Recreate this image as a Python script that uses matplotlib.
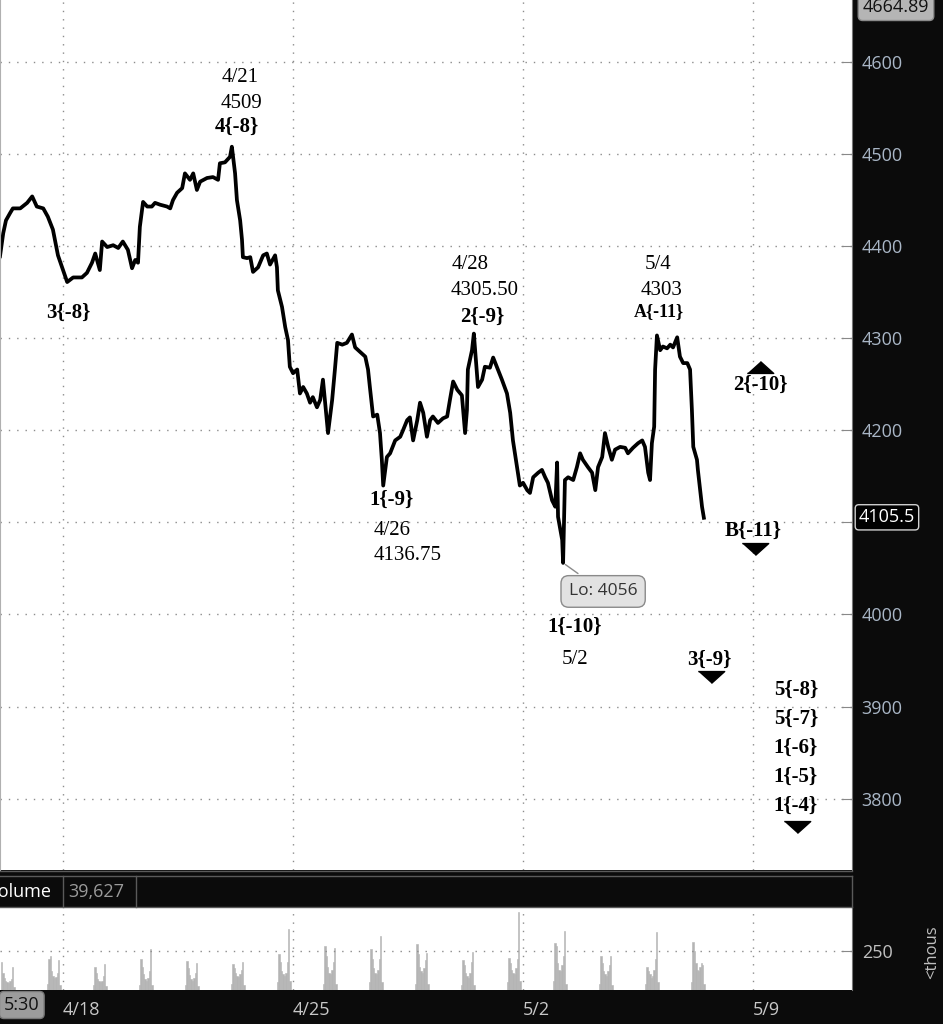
import numpy as np
import matplotlib.pyplot as plt
from matplotlib.lines import Line2D

# Eje x en sesiones de mercado (0 = 4/18, 5 = 4/25, 10 = 5/2, 15 = 5/9)
fechas = ['4/18', '4/25', '5/2', '5/9']
fecha_pos = [0, 5, 10, 15]

# Precio
t = [-1.37, -1.30, -1.24, -1.15, -1.09, -0.93, -0.78, -0.67, -0.57, -0.43,
     -0.33, -0.22, -0.11, 0.00, 0.09, 0.22, 0.41, 0.52, 0.63, 0.70,
     0.80, 0.85, 0.96, 1.09, 1.20, 1.30, 1.41, 1.50, 1.57, 1.63,
     1.67, 1.74, 1.83, 1.93, 2.00, 2.11, 2.26, 2.33, 2.39, 2.48,
     2.59, 2.65, 2.76, 2.83, 2.91, 2.98, 3.13, 3.26, 3.37, 3.41,
     3.52, 3.63, 3.67, 3.74, 3.78, 3.85, 3.89, 3.91, 4.00, 4.07,
     4.13, 4.24, 4.35, 4.43, 4.50, 4.61, 4.65, 4.67, 4.76, 4.83,
     4.89, 4.93, 5.00, 5.09, 5.15, 5.22, 5.30, 5.37, 5.43, 5.52,
     5.59, 5.65, 5.74, 5.76, 5.85, 5.91, 5.96, 6.07, 6.17, 6.28,
     6.35, 6.46, 6.57, 6.63, 6.67, 6.74, 6.83, 6.89, 6.93, 6.96,
     7.04, 7.11, 7.22, 7.33, 7.39, 7.48, 7.54, 7.61, 7.70, 7.76,
     7.83, 7.91, 7.98, 8.04, 8.15, 8.26, 8.35, 8.41, 8.48, 8.57,
     8.67, 8.74, 8.78, 8.80, 8.89, 8.93, 8.98, 9.02, 9.11, 9.17,
     9.28, 9.35, 9.43, 9.54, 9.65, 9.72, 9.78, 9.87, 9.93, 10.00,
     10.09, 10.15, 10.22, 10.33, 10.41, 10.48, 10.54, 10.63, 10.70, 10.74,
     10.76, 10.80, 10.85, 10.87, 10.91, 10.98, 11.09, 11.17, 11.24, 11.30,
     11.41, 11.50, 11.57, 11.63, 11.72, 11.78, 11.85, 11.93, 12.00, 12.11,
     12.22, 12.28, 12.39, 12.50, 12.59, 12.65, 12.72, 12.76, 12.80, 12.85,
     12.87, 12.91, 12.98, 13.04, 13.13, 13.20, 13.26, 13.35, 13.41, 13.48,
     13.57, 13.63, 13.67, 13.70, 13.78, 13.80, 13.89, 13.93]
precio = [4389, 4414, 4428, 4436, 4441, 4441, 4447, 4454, 4443, 4441,
          4432, 4418, 4390, 4374, 4361, 4366, 4366, 4371, 4382, 4392,
          4374, 4405, 4399, 4401, 4398, 4405, 4396, 4376, 4385, 4382,
          4421, 4448, 4443, 4443, 4447, 4445, 4443, 4441, 4450, 4458,
          4463, 4479, 4472, 4479, 4461, 4470, 4474, 4475, 4472, 4490,
          4491, 4497, 4508, 4479, 4450, 4428, 4407, 4388, 4387, 4388,
          4372, 4377, 4390, 4392, 4380, 4390, 4377, 4352, 4334, 4312,
          4298, 4269, 4262, 4266, 4240, 4247, 4240, 4230, 4236, 4225,
          4233, 4255, 4208, 4197, 4233, 4266, 4295, 4293, 4295, 4304,
          4290, 4285, 4280, 4266, 4247, 4215, 4217, 4197, 4168, 4140,
          4171, 4175, 4189, 4193, 4200, 4211, 4214, 4189, 4211, 4230,
          4219, 4193, 4211, 4215, 4208, 4213, 4215, 4233, 4253, 4244,
          4238, 4197, 4222, 4266, 4287, 4305, 4273, 4247, 4255, 4269,
          4268, 4279, 4269, 4255, 4240, 4219, 4189, 4160, 4140, 4143,
          4135, 4132, 4149, 4154, 4157, 4149, 4143, 4124, 4117, 4165,
          4106, 4095, 4081, 4056, 4146, 4149, 4146, 4160, 4175, 4168,
          4160, 4154, 4135, 4160, 4171, 4197, 4182, 4168, 4179, 4182,
          4181, 4175, 4181, 4186, 4189, 4182, 4154, 4146, 4186, 4204,
          4266, 4303, 4287, 4291, 4289, 4293, 4290, 4301, 4280, 4273,
          4273, 4266, 4222, 4182, 4168, 4157, 4117, 4105]

# Volumen (miles) por sesion regular: inicio de cada bloque y barras
vol_inicio = [-1.35, -0.35, 0.65, 1.65, 2.65, 3.65, 4.65, 5.65,
              6.65, 7.65, 8.65, 9.65, 10.65, 11.65, 12.65, 13.65]
vol = [
    [177, 110, 80, 60, 50, 45, 55, 70, 150, 20],
    [40, 200, 219, 120, 90, 75, 85, 110, 190, 30],
    [30, 146, 110, 70, 55, 50, 60, 90, 167, 25],
    [35, 198, 150, 100, 70, 60, 80, 120, 260, 30],
    [30, 187, 140, 95, 70, 60, 75, 110, 175, 25],
    [40, 167, 140, 110, 90, 85, 100, 130, 177, 30],
    [50, 229, 180, 120, 100, 90, 110, 180, 390, 60],
    [40, 281, 220, 150, 110, 100, 130, 180, 270, 40],
    [50, 260, 200, 140, 110, 100, 130, 200, 344, 50],
    [40, 298, 230, 150, 120, 110, 140, 190, 240, 40],
    [30, 190, 160, 110, 90, 80, 110, 180, 244, 30],
    [50, 208, 170, 130, 110, 100, 140, 200, 500, 60],
    [60, 302, 280, 170, 130, 120, 160, 220, 379, 40],
    [40, 219, 170, 120, 100, 90, 120, 160, 219, 30],
    [40, 150, 120, 100, 80, 90, 130, 200, 369, 50],
    [50, 306, 250, 170, 130, 120, 150, 175, 160, 40],
]

serif = 'Liberation Serif'
gris_txt = '#a9b6c6'

fig = plt.figure(figsize=(9.43, 10.24), dpi=100, facecolor='#0b0b0b')
ax = fig.add_axes([0, 154 / 1024, 852 / 943, 870 / 1024])
axv = fig.add_axes([0, 34 / 1024, 852 / 943, 82 / 1024])

# ---- Panel de precio ----
ax.set_facecolor('white')
ax.plot(t, precio, color='black', lw=2.7)
ax.set_xlim(-1.37, 17.15)
ax.set_ylim(3722.5, 4667.3)
ax.yaxis.tick_right()
niveles = list(range(3800, 4700, 100))
ax.set_yticks(niveles)
# la etiqueta 4100 queda tapada por el recuadro del ultimo precio
ax.set_yticklabels(['' if n == 4100 else str(n) for n in niveles], family='Open Sans')
ax.set_xticks(fecha_pos)
ax.tick_params(axis='x', length=0, labelbottom=False)
ax.tick_params(axis='y', direction='in', length=8, color='#888888',
               labelcolor=gris_txt, labelsize=13, pad=7)
ax.grid(True, color='#8c8c8c', ls=(0, (1, 5)), lw=1)
for s in ['top', 'bottom']:
    ax.spines[s].set_visible(False)
ax.spines['left'].set_color('#b0b0b0')
ax.spines['right'].set_color('#777777')

# etiquetas de ondas
def txt(x, y, s, bold=True, size=15):
    ax.text(x, y, s, ha='center', va='center', family=serif, fontsize=size,
            fontweight='bold' if bold else 'normal', color='black')

txt(3.85, 4583, '4/21', False)
txt(3.87, 4555, '4509', False)
txt(3.78, 4530, '4{-8}')
txt(0.11, 4328, '3{-8}')
txt(8.85, 4380, '4/28', False)
txt(9.17, 4352, '4305.50', False)
txt(9.11, 4323, '2{-9}')
txt(12.93, 4380, '5/4', False)
txt(13.02, 4352, '4303', False)
txt(12.96, 4329, 'A{-11}', size=13)
txt(7.15, 4124, '1{-9}')
txt(7.15, 4091, '4/26', False)
txt(7.48, 4064, '4136.75', False)
txt(11.13, 3986, '1{-10}')
txt(11.13, 3951, '5/2', False)
txt(15.15, 4249, '2{-10}')
txt(15.00, 4091, 'B{-11}')
txt(14.04, 3951, '3{-9}')
for y, s in zip([3918, 3887, 3855, 3824, 3792],
                ['5{-8}', '5{-7}', '1{-6}', '1{-5}', '1{-4}']):
    txt(15.93, y, s)

tri_abajo = [(-1, 0.45), (1, 0.45), (0, -0.45)]
tri_arriba = [(-1, -0.45), (1, -0.45), (0, 0.45)]
ax.plot([15.15], [4269], marker=tri_arriba, ms=19, color='black', ls='none')
ax.plot([15.04, 14.09, 15.96], [4071, 3932, 3769], marker=tri_abajo, ms=19,
        color='black', ls='none')

ax.annotate('Lo: 4056', xy=(10.87, 4056), xytext=(11.74, 4025),
            ha='center', va='center', fontsize=12.5, family='Open Sans',
            color='#333333',
            bbox=dict(boxstyle='round,pad=0.45', fc='#e2e2e2', ec='#8a8a8a'),
            arrowprops=dict(arrowstyle='-', color='#8a8a8a', lw=1))

# etiquetas del eje derecho
fig.text(896 / 943, 1 - 7 / 1024, '4664.89', ha='center', va='center',
         fontsize=13, family='Open Sans', color='#111111',
         bbox=dict(boxstyle='round,pad=0.25', fc='#b5b5b5', ec='#8a8a8a'))
ax.text(1.008, 4105.5, '4105.5', transform=ax.get_yaxis_transform(),
        ha='left', va='center', fontsize=13, family='Open Sans', color='white',
        bbox=dict(boxstyle='round,pad=0.2', fc='black', ec='#d0d0d0'))

# ---- Barra de encabezado del volumen ----
borde = '#5a5a5a'
for yp in [871, 876, 907]:
    fig.add_artist(Line2D([0, 852 / 943], [1 - yp / 1024] * 2, color=borde, lw=1))
for xp in [63, 136, 852]:
    fig.add_artist(Line2D([xp / 943] * 2, [1 - 907 / 1024, 1 - 876 / 1024],
                          color=borde, lw=1))
fig.text(-13 / 943, 1 - 892 / 1024, 'Volume', ha='left', va='center',
         fontsize=13, family='Open Sans', color='white')
fig.text(68 / 943, 1 - 892 / 1024, '39,627', ha='left', va='center',
         fontsize=13, family='Open Sans', color='#9a9a9a')

# ---- Panel de volumen ----
axv.set_facecolor('white')
paso = 0.03
for x0, bloque in zip(vol_inicio, vol):
    xs = [x0 + i * paso for i in range(len(bloque))]
    axv.bar(xs, bloque, width=paso, align='edge', color='#b4b4b4',
            edgecolor='#b4b4b4', lw=0.4)
axv.set_xlim(-1.37, 17.15)
axv.set_ylim(0, 526)
axv.yaxis.tick_right()
axv.set_yticks([250])
axv.set_yticklabels(['250'], family='Open Sans')
axv.tick_params(axis='y', direction='in', length=8, color='#888888',
                labelcolor='#c0c0c0', labelsize=13, pad=7)
axv.set_xticks(fecha_pos)
axv.set_xticklabels(fechas, ha='left', family='Open Sans')
axv.tick_params(axis='x', length=0, labelcolor='#c8c8c8', labelsize=13, pad=8)
axv.grid(True, color='#8c8c8c', ls=(0, (1, 5)), lw=1)
for s in ['top', 'bottom', 'left']:
    axv.spines[s].set_visible(False)
axv.spines['right'].set_color('#777777')

fig.text(932 / 943, 1 - 952 / 1024, '<thous', rotation=90, ha='center',
         va='center', fontsize=12, family='Open Sans', color='#c0c0c0')
fig.text(4 / 943, 1 - 1005 / 1024, '5:30', ha='left', va='center',
         fontsize=13, family='Open Sans', color='#111111',
         bbox=dict(boxstyle='round,pad=0.25', fc='#9c9c9c', ec='#777777'))

fig.savefig('out.png', dpi=100, facecolor=fig.get_facecolor())
